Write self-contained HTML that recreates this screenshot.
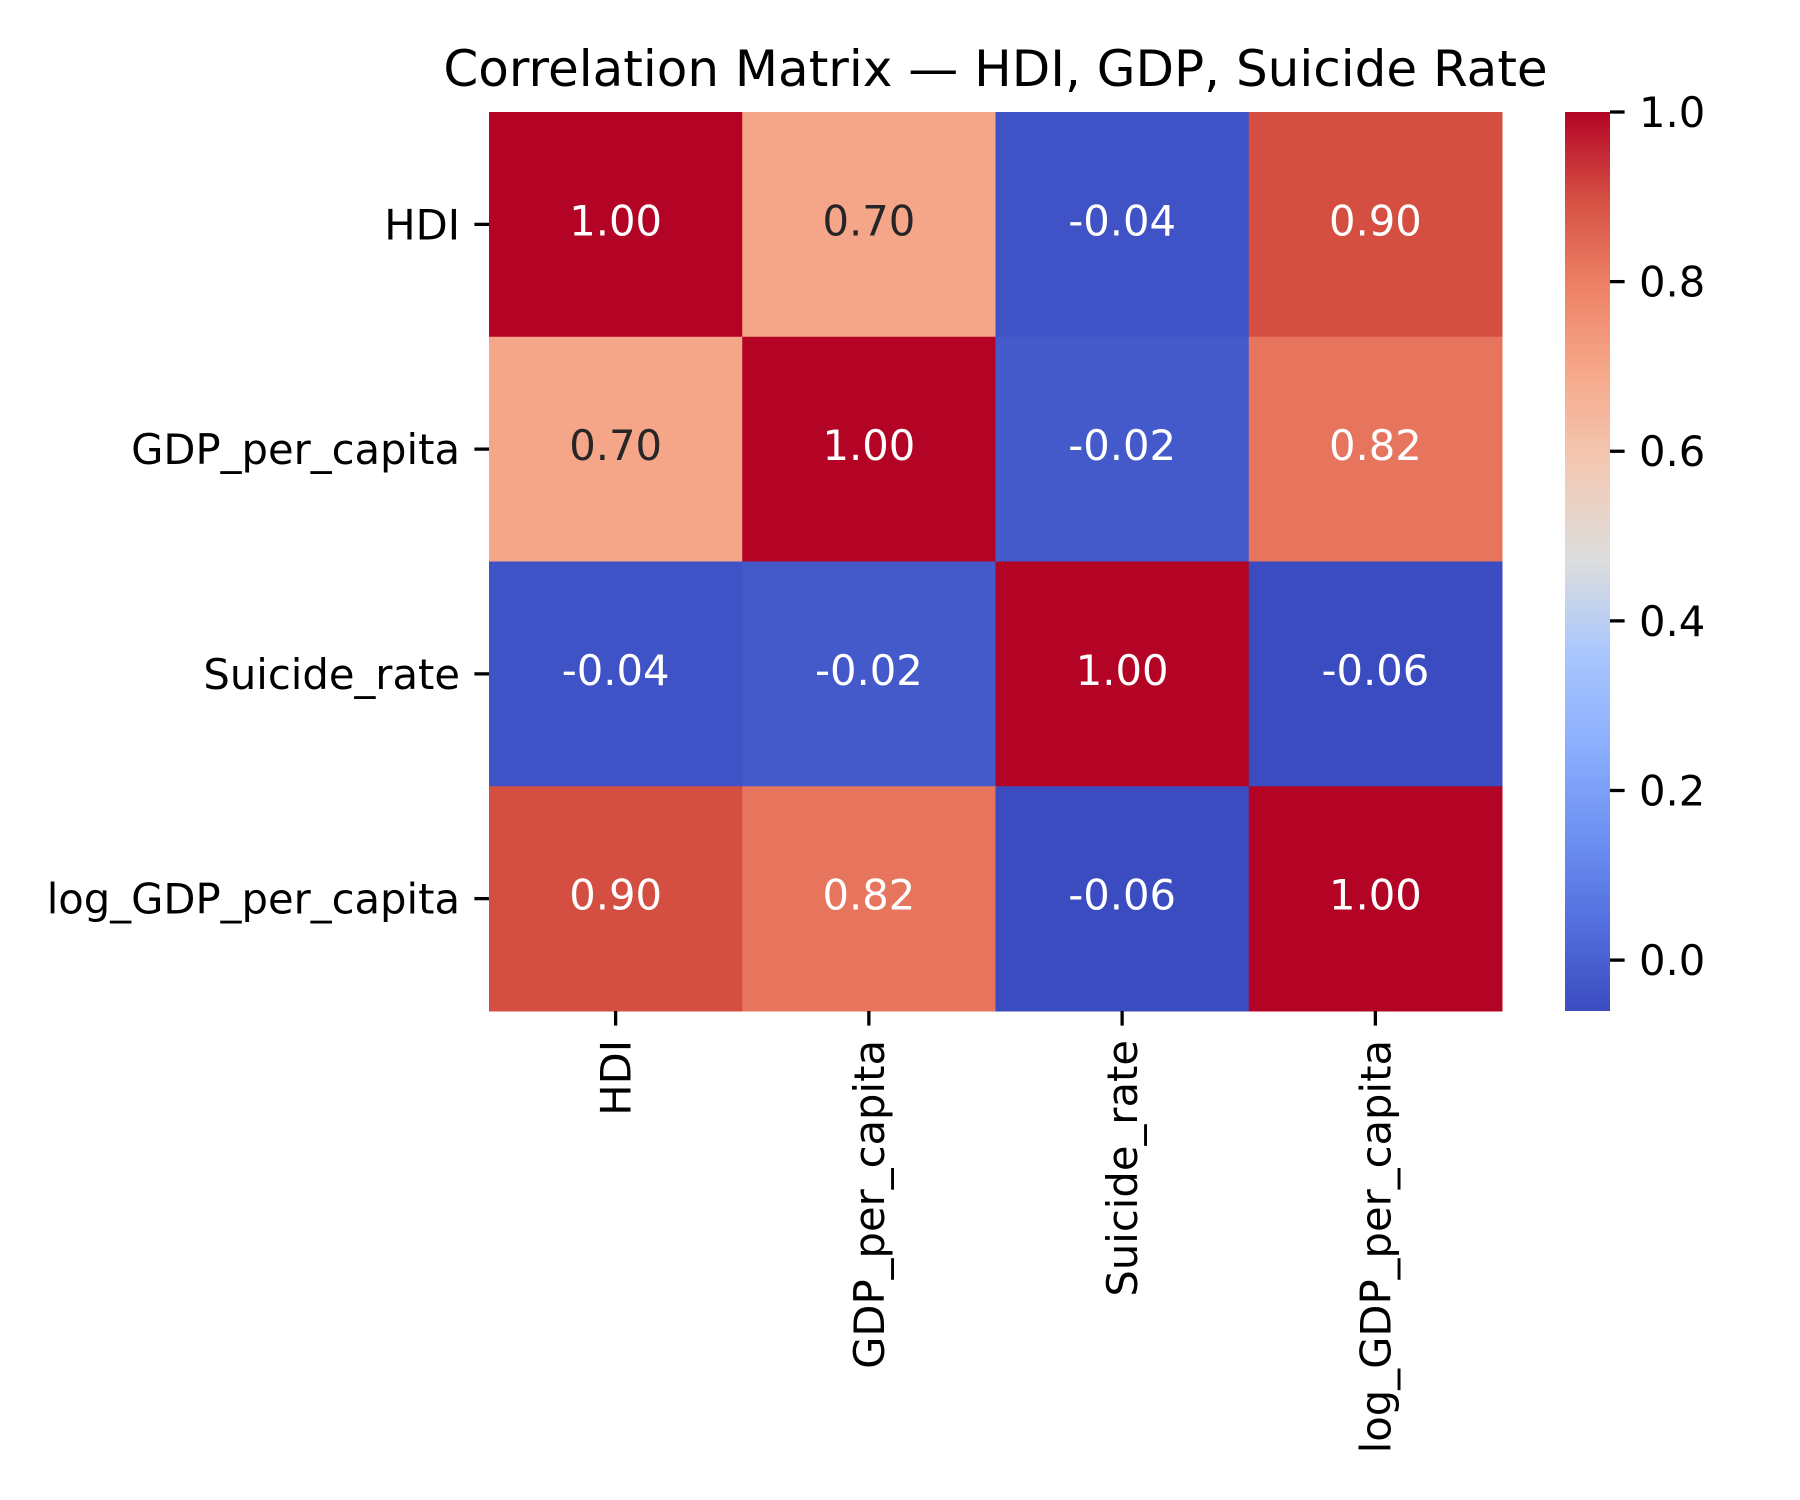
<!DOCTYPE html>
<html><head><meta charset="utf-8"><style>
html,body{margin:0;padding:0;background:#fff;}
svg{display:block;font-family:"DejaVu Sans","Liberation Sans",sans-serif;}
</style></head><body>
<svg id="chart" width="1800" height="1500" viewBox="0 0 1800 1500" xmlns="http://www.w3.org/2000/svg">
<defs>
<linearGradient id="cw" x1="0" y1="1" x2="0" y2="0">
<stop offset="0" stop-color="#3b4cc0"/><stop offset="0.1" stop-color="#5470de"/><stop offset="0.2" stop-color="#6f92f3"/><stop offset="0.3" stop-color="#8db0fe"/><stop offset="0.4" stop-color="#aac7fd"/><stop offset="0.5" stop-color="#dcdddd"/><stop offset="0.6" stop-color="#f2cbb7"/><stop offset="0.7" stop-color="#f7ac8e"/><stop offset="0.8" stop-color="#ee8468"/><stop offset="0.9" stop-color="#d65244"/><stop offset="1" stop-color="#b40426"/>
</linearGradient>
</defs>
<text x="995.5" y="86" font-size="50" text-anchor="middle" fill="#000">Correlation Matrix — HDI, GDP, Suicide Rate</text>
<g id="cells"></g>
<g id="axes"></g>
<rect x="1565" y="112" width="45" height="899" fill="url(#cw)"/>
<g id="cbar"></g>
</svg>
<script>
const labels = ["HDI","GDP_per_capita","Suicide_rate","log_GDP_per_capita"];
const row0 = [1.00, 0.70, -0.04, 0.90];
const row1 = [0.70, 1.00, -0.02, 0.82];
const row2 = [-0.04, -0.02, 1.00, -0.06];
const row3 = [0.90, 0.82, -0.06, 1.00];
const matrix = [row0,row1,row2,row3];
const cbarTicks = [0.0,0.2,0.4,0.6,0.8,1.0];
const vmin = -0.06, vmax = 1.0;

const NS="http://www.w3.org/2000/svg";
const X0=489, X1=1502, Y0=112, Y1=1011;
const cw=(X1-X0)/labels.length, ch=(Y1-Y0)/labels.length;
const xPos=i=>X0+i*cw, yPos=i=>Y0+i*ch;
const cbY=v=>Y1-(v-vmin)/(vmax-vmin)*(Y1-Y0);
const stops=[[59,76,192],[84,112,222],[111,146,243],[141,176,254],[170,199,253],[220,221,221],[242,203,183],[247,172,142],[238,132,104],[214,82,68],[180,4,38]];
function color(v){let t=(v-vmin)/(vmax-vmin);t=Math.max(0,Math.min(1,t));const s=t*10,i=Math.min(9,Math.floor(s)),f=s-i;const a=stops[i],b=stops[i+1];const c=a.map((x,k)=>Math.round(x+(b[k]-x)*f));return c;}
function lum(c){const l=c.map(x=>{x/=255;return x<=0.03928?x/12.92:Math.pow((x+0.055)/1.055,2.4);});return 0.2126*l[0]+0.7152*l[1]+0.0722*l[2];}
function mk(tag,attrs,parent,txt){const e=document.createElementNS(NS,tag);for(const k in attrs)e.setAttribute(k,attrs[k]);if(txt!==undefined)e.textContent=txt;parent.appendChild(e);return e;}
const cells=document.getElementById('cells'),axes=document.getElementById('axes'),cbar=document.getElementById('cbar');
matrix.forEach((row,r)=>row.forEach((v,c)=>{
  const col=color(v);
  const rc=mk('rect',{x:xPos(c),y:yPos(r),width:cw+0.5,height:ch+0.5,fill:`rgb(${col.join(',')})`},cells);
  
  
  const t=mk('text',{x:xPos(c)+cw/2,y:yPos(r)+ch/2+11,'font-size':41.7,'text-anchor':'middle',fill:lum(col)>0.408?'#262626':'#ffffff'},cells,v.toFixed(2));
  
  
}));
labels.forEach((lab,i)=>{
  const yc=yPos(i)+ch/2, xc=xPos(i)+cw/2;
  mk('line',{x1:X0-14.6,y1:yc,x2:X0,y2:yc,stroke:'#000','stroke-width':3.3},axes);
  const yl=mk('text',{x:X0-29,y:yc+15,'font-size':41.7,'text-anchor':'end',fill:'#000'},axes,lab);
  
  
  mk('line',{x1:xc,y1:Y1,x2:xc,y2:Y1+14.6,stroke:'#000','stroke-width':3.3},axes);
  const xl=mk('text',{x:0,y:0,'font-size':41.7,'text-anchor':'end',fill:'#000',transform:`translate(${xc+15},${Y1+29}) rotate(-90)`},axes,lab);
  
  
});
cbarTicks.forEach(v=>{
  const y=cbY(v);
  mk('line',{x1:1610,y1:y,x2:1624.6,y2:y,stroke:'#000','stroke-width':3.3},cbar);
  const t=mk('text',{x:1639,y:y+15,'font-size':41.7,fill:'#000'},cbar,v.toFixed(1));
  
  
});
</script>
</body></html>
